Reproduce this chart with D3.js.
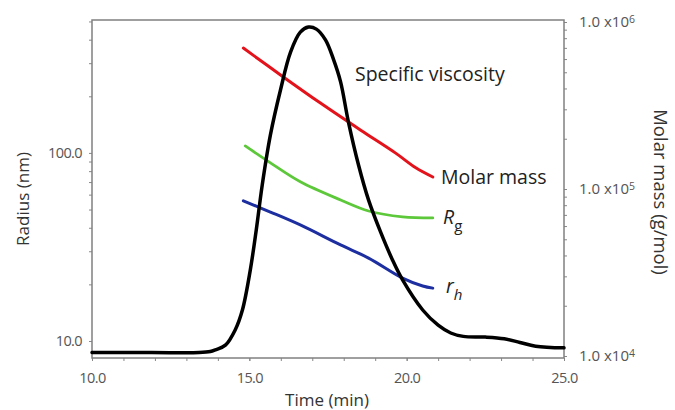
<!DOCTYPE html>
<html>
    <head>
        <script src="https://d3js.org/d3.v7.min.js"></script>
        <style>
            * {
                font-family: 'Open Sans', 'Noto Sans', sans-serif;
            }
            body {
                margin: 0;
                background: #fff;
                overflow: hidden;
            }
            .tick text {
                fill: #555;
                font-size: 14.5px;
                letter-spacing: -0.6px;
            }
            .right-axis .tick text {
                font-size: 15px;
                letter-spacing: 0;
            }
            .domain {
                display: none;
            }
            .tick line {
                stroke: #888;
            }
            .title {
                fill: #333;
                font-size: 17px;
            }
            .note {
                fill: #222;
                font-size: 19.5px;
            }
        </style>
    </head>
    <body>
        <script>
            // specific viscosity trace (relative units)
            const viscTime = [10.0, 11.9, 13.4, 13.76, 13.92, 14.24, 14.55, 14.78, 15.03, 15.22, 15.41, 15.67, 15.99, 16.31, 16.62, 16.88, 17.13, 17.42, 17.68, 17.9, 18.15, 18.47, 18.79, 19.17, 19.55, 19.87, 20.51, 21.0, 21.4, 21.8, 22.5, 23.1, 23.6, 24.1, 25.0];
            const viscValue = [0.016, 0.016, 0.016, 0.019, 0.024, 0.038, 0.083, 0.142, 0.26, 0.379, 0.512, 0.66, 0.793, 0.905, 0.964, 0.979, 0.973, 0.941, 0.882, 0.817, 0.698, 0.571, 0.467, 0.373, 0.29, 0.231, 0.142, 0.097, 0.074, 0.064, 0.062, 0.057, 0.046, 0.035, 0.03];

            // molar mass (g/mol), right axis
            const mmTime = [14.81, 16.08, 17.26, 18.54, 19.65, 20.29, 20.83];
            const mmValue = [6.98e5, 4.69e5, 3.27e5, 2.25e5, 1.64e5, 1.34e5, 1.18e5];

            // radius of gyration (nm), left axis
            const rgTime = [14.87, 15.67, 16.62, 17.9, 18.79, 19.87, 20.83];
            const rgValue = [108.9, 88.5, 70.2, 56.2, 49.1, 45.7, 45.1];

            // hydrodynamic radius (nm), left axis
            const rhTime = [14.81, 15.67, 16.62, 17.9, 18.79, 19.87, 20.51, 20.83];
            const rhValue = [55.6, 48.5, 41.4, 32.4, 27.6, 21.6, 19.6, 19.1];

            const xTicks = [10, 15, 20, 25];
            const leftTicks = [10, 100];
            const rightTicks = [1e4, 1e5, 1e6];
            const rightTickExp = ['4', '5', '6'];

            const width = 675;
            const height = 410;
            const margin = { top: 20, right: 111, bottom: 52, left: 92 };

            const svg = d3.select('body').append('svg').attr('width', width).attr('height', height);

            const x = d3.scaleLinear().domain([10, 25]).range([margin.left, width - margin.right]);
            const yLeft = d3.scaleLog().domain([8.12, 509]).range([height - margin.bottom, margin.top]);
            const yRight = d3.scaleLog().domain([9730, 1.028e6]).range([height - margin.bottom, margin.top]);
            const yVisc = d3.scaleLinear().domain([0, 1]).range([height - margin.bottom, margin.top]);

            const bottom = height - margin.bottom;
            const right = width - margin.right;

            // minor ticks
            const xMinor = d3.range(10, 26, 1);
            const leftMinor = [20, 30, 40, 50, 60, 70, 80, 90, 200, 300, 400, 500];
            const rightMinor = [];
            [1e4, 1e5].forEach((d) => d3.range(2, 10).forEach((k) => rightMinor.push(d * k)));

            svg.append('g').attr('transform', `translate(0,${bottom})`)
                .call(d3.axisBottom(x).tickValues(xMinor).tickFormat('').tickSize(3));
            svg.append('g').attr('transform', `translate(0,${bottom})`)
                .call(d3.axisBottom(x).tickValues(xTicks).tickFormat(d3.format('.1f')).tickSize(3).tickPadding(12));

            svg.append('g').attr('transform', `translate(${margin.left},0)`)
                .call(d3.axisLeft(yLeft).tickValues(leftMinor).tickFormat('').tickSize(3));
            svg.append('g').attr('transform', `translate(${margin.left},0)`)
                .call(d3.axisLeft(yLeft).tickValues(leftTicks).tickFormat(d3.format('.1f')).tickSize(3).tickPadding(7));

            svg.append('g').attr('transform', `translate(${right},0)`)
                .call(d3.axisRight(yRight).tickValues(rightMinor).tickFormat('').tickSize(3));
            const rAxis = svg.append('g').attr('class', 'right-axis').attr('transform', `translate(${right},0)`)
                .call(d3.axisRight(yRight).tickValues(rightTicks).tickFormat('').tickSize(3).tickPadding(12));
            rAxis.selectAll('.tick text').each(function (d, i) {
                const t = d3.select(this);
                t.append('tspan').text('1.0 x10');
                t.append('tspan').attr('dy', '-0.45em').attr('font-size', '10.5px').text(rightTickExp[i]);
            });

            // frame
            svg.append('rect')
                .attr('x', margin.left)
                .attr('y', margin.top)
                .attr('width', right - margin.left)
                .attr('height', bottom - margin.top)
                .attr('fill', 'none')
                .attr('stroke', '#808080')
                .attr('stroke-width', 1.5);

            const smooth = d3.curveCatmullRom.alpha(0.5);
            const series = [
                { t: rgTime, v: rgValue, y: yLeft, color: '#5cc83a', w: 2.8 },
                { t: rhTime, v: rhValue, y: yLeft, color: '#1c2ea0', w: 3 },
                { t: mmTime, v: mmValue, y: yRight, color: '#e3121b', w: 3 },
                { t: viscTime, v: viscValue, y: yVisc, color: '#000', w: 3.5 },
            ];

            series.forEach((s) => {
                const line = d3
                    .line()
                    .x((d, i) => x(s.t[i]))
                    .y((d, i) => s.y(s.v[i]))
                    .curve(smooth);
                svg.append('path')
                    .datum(s.v)
                    .attr('d', line)
                    .attr('fill', 'none')
                    .attr('stroke', s.color)
                    .attr('stroke-width', s.w)
                    .attr('stroke-linecap', 'round')
                    .attr('stroke-linejoin', 'round');
            });

            // labels on the curves
            svg.append('text').attr('class', 'note').attr('x', 355).attr('y', 81).text('Specific viscosity');
            svg.append('text').attr('class', 'note').attr('x', 441).attr('y', 184).text('Molar mass');
            const rg = svg.append('text').attr('class', 'note').attr('x', 443).attr('y', 224);
            rg.append('tspan').attr('font-style', 'italic').text('R');
            rg.append('tspan').attr('dy', 7).attr('font-size', '15px').text('g');
            const rh = svg.append('text').attr('class', 'note').attr('x', 446).attr('y', 293);
            rh.append('tspan').attr('font-style', 'italic').text('r');
            rh.append('tspan').attr('dy', 7).attr('font-size', '15px').attr('font-style', 'italic').text('h');

            // axis titles
            svg.append('text').attr('class', 'title').attr('x', 327).attr('y', 406).attr('text-anchor', 'middle').text('Time (min)');
            svg.append('text')
                .attr('class', 'title')
                .attr('transform', 'translate(29,199) rotate(-90)')
                .attr('text-anchor', 'middle')
                .text('Radius (nm)');
            svg.append('text')
                .attr('class', 'title')
                .style('font-size', '18.5px')
                .attr('transform', 'translate(654,192) rotate(90)')
                .attr('text-anchor', 'middle')
                .text('Molar mass (g/mol)');
        </script>
    </body>
</html>
